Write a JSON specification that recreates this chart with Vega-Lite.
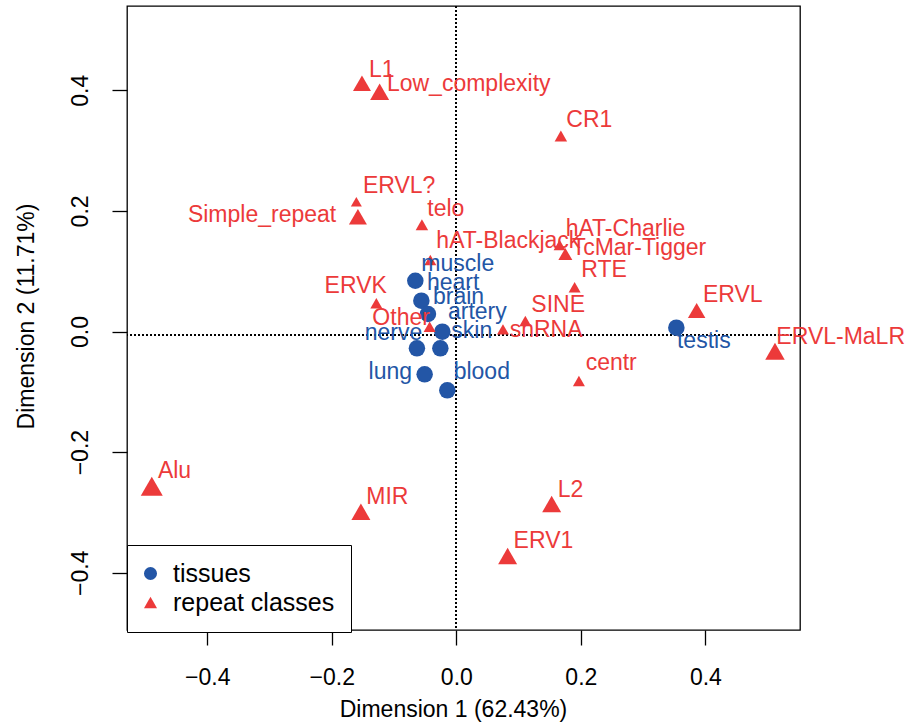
{
  "$schema": "https://vega.github.io/schema/vega-lite/v6.json",
  "width": 673,
  "height": 624,
  "autosize": {"type": "none"},
  "padding": {"left": 127, "top": 6, "right": 106, "bottom": 95},
  "background": "white",
  "config": {
    "view": {"stroke": "black", "strokeWidth": 1.3},
    "font": "Liberation Sans",
    "axis": {
      "domain": false,
      "grid": false,
      "tickColor": "black",
      "tickWidth": 1.3,
      "tickSize": 15,
      "labelColor": "black",
      "labelFont": "Liberation Sans",
      "labelFontSize": 23,
      "titleFont": "Liberation Sans",
      "titleFontSize": 23,
      "titleFontWeight": "normal",
      "titleColor": "black"
    },
    "legend": {
      "labelFont": "Liberation Sans",
      "labelFontSize": 25,
      "labelColor": "black",
      "labelLimit": 400
    }
  },
  "datasets": {
    "coords": [
      {"name": "muscle", "type": "tissues", "x": -0.0659, "y": 0.0842, "lx": -0.0562, "ly": 0.1008, "weight": 1.65},
      {"name": "heart", "type": "tissues", "x": -0.0562, "y": 0.0511, "lx": -0.0472, "ly": 0.0688, "weight": 1.65},
      {"name": "brain", "type": "tissues", "x": -0.0456, "y": 0.0290, "lx": -0.0376, "ly": 0.0456, "weight": 1.65},
      {"name": "artery", "type": "tissues", "x": -0.0225, "y": -0.0003, "lx": -0.0135, "ly": 0.0207, "weight": 1.65},
      {"name": "skin", "type": "tissues", "x": -0.0257, "y": -0.0279, "lx": -0.0080, "ly": -0.0113, "weight": 1.65},
      {"name": "nerve", "type": "tissues", "x": -0.0633, "y": -0.0279, "lx": -0.1473, "ly": -0.0141, "weight": 1.65},
      {"name": "lung", "type": "tissues", "x": -0.0509, "y": -0.0710, "lx": -0.1409, "ly": -0.0793, "weight": 1.65},
      {"name": "blood", "type": "tissues", "x": -0.0145, "y": -0.0975, "lx": -0.0043, "ly": -0.0793, "weight": 1.65},
      {"name": "testis", "type": "tissues", "x": 0.3534, "y": 0.0063, "lx": 0.3544, "ly": -0.0279, "weight": 1.65},
      {"name": "L1", "type": "repeat classes", "x": -0.1516, "y": 0.4116, "lx": -0.1404, "ly": 0.4226, "weight": 1.8},
      {"name": "Low_complexity", "type": "repeat classes", "x": -0.1232, "y": 0.3977, "lx": -0.1115, "ly": 0.3993, "weight": 1.9},
      {"name": "CR1", "type": "repeat classes", "x": 0.1679, "y": 0.3242, "lx": 0.1767, "ly": 0.3396, "weight": 1.25},
      {"name": "ERVL?", "type": "repeat classes", "x": -0.1606, "y": 0.2153, "lx": -0.1500, "ly": 0.2302, "weight": 1.1},
      {"name": "Simple_repeat", "type": "repeat classes", "x": -0.1581, "y": 0.1904, "lx": -0.4312, "ly": 0.1821, "weight": 1.8},
      {"name": "telo", "type": "repeat classes", "x": -0.0553, "y": 0.1771, "lx": -0.0466, "ly": 0.1915, "weight": 1.25},
      {"name": "hAT-Blackjack", "type": "repeat classes", "x": -0.0418, "y": 0.1186, "lx": -0.0321, "ly": 0.1380, "weight": 1.2},
      {"name": "hAT-Charlie", "type": "repeat classes", "x": 0.1659, "y": 0.1434, "lx": 0.1756, "ly": 0.1584, "weight": 1.2},
      {"name": "TcMar-Tigger", "type": "repeat classes", "x": 0.1751, "y": 0.1285, "lx": 0.1852, "ly": 0.1269, "weight": 1.4},
      {"name": "RTE", "type": "repeat classes", "x": 0.1900, "y": 0.0733, "lx": 0.2008, "ly": 0.0899, "weight": 1.2},
      {"name": "ERVL", "type": "repeat classes", "x": 0.3860, "y": 0.0348, "lx": 0.3961, "ly": 0.0494, "weight": 1.75},
      {"name": "ERVL-MaLR", "type": "repeat classes", "x": 0.5118, "y": -0.0328, "lx": 0.5140, "ly": -0.0212, "weight": 1.95},
      {"name": "ERVK", "type": "repeat classes", "x": -0.1285, "y": 0.0468, "lx": -0.2116, "ly": 0.0633, "weight": 1.2},
      {"name": "Other", "type": "repeat classes", "x": -0.0429, "y": 0.0080, "lx": -0.1349, "ly": 0.0108, "weight": 1.2},
      {"name": "SINE", "type": "repeat classes", "x": 0.1108, "y": 0.0174, "lx": 0.1205, "ly": 0.0328, "weight": 1.2},
      {"name": "snRNA", "type": "repeat classes", "x": 0.0749, "y": 0.0036, "lx": 0.0856, "ly": -0.0086, "weight": 1.2},
      {"name": "centr", "type": "repeat classes", "x": 0.1969, "y": -0.0821, "lx": 0.2077, "ly": -0.0638, "weight": 1.2},
      {"name": "Alu", "type": "repeat classes", "x": -0.4892, "y": -0.2566, "lx": -0.4794, "ly": -0.2434, "weight": 2.2},
      {"name": "MIR", "type": "repeat classes", "x": -0.1533, "y": -0.2988, "lx": -0.1446, "ly": -0.2861, "weight": 1.9},
      {"name": "L2", "type": "repeat classes", "x": 0.1531, "y": -0.2861, "lx": 0.1627, "ly": -0.2745, "weight": 1.9},
      {"name": "ERV1", "type": "repeat classes", "x": 0.0824, "y": -0.3723, "lx": 0.0920, "ly": -0.3595, "weight": 1.9}
    ]
  },
  "data": {"name": "coords"},
  "layer": [
    {
      "mark": {"type": "rule", "color": "black", "strokeWidth": 1.3, "strokeDash": [1.5, 2.5]},
      "encoding": {
        "x": {"datum": 0, "type": "quantitative", "scale": {"domain": [-0.529, 0.552], "nice": false, "zero": false}}
      }
    },
    {
      "mark": {"type": "rule", "color": "black", "strokeWidth": 1.3, "strokeDash": [1.5, 2.5]},
      "encoding": {
        "y": {"datum": -0.0058, "type": "quantitative", "scale": {"domain": [-0.495, 0.5398], "nice": false, "zero": false}}
      }
    },
    {
      "mark": {"type": "point", "filled": true, "opacity": 1, "strokeWidth": 0},
      "encoding": {
        "x": {
          "field": "x", "type": "quantitative",
          "scale": {"domain": [-0.529, 0.552], "nice": false, "zero": false},
          "axis": {
            "title": "Dimension 1 (62.43%)",
            "values": [-0.4, -0.2, 0, 0.2, 0.4],
            "format": ".1f",
            "labelBaseline": "alphabetic",
            "labelPadding": 39.5,
            "titleBaseline": "alphabetic",
            "titleX": 326,
            "titleY": 86.7,
            "titleAlign": "center"
          }
        },
        "y": {
          "field": "y", "type": "quantitative",
          "scale": {"domain": [-0.495, 0.5398], "nice": false, "zero": false},
          "axis": {
            "title": "Dimension 2 (11.71%)",
            "values": [-0.4, -0.2, 0, 0.2, 0.4],
            "format": ".1f",
            "labelAngle": -90,
            "labelAlign": "center",
            "labelBaseline": "alphabetic",
            "labelPadding": 25,
            "titleAngle": -90,
            "titleAlign": "center",
            "titleBaseline": "alphabetic",
            "titleX": -93.7,
            "titleY": 310
          }
        },
        "shape": {
          "field": "type", "type": "nominal",
          "scale": {"domain": ["tissues", "repeat classes"], "range": ["circle", "triangle-up"]},
          "legend": {
            "title": null,
            "orient": "none",
            "legendX": 0,
            "legendY": 539,
            "padding": 16,
            "rowPadding": 3,
            "symbolSize": 170,
            "symbolStrokeWidth": 0,
            "symbolOffset": -5,
            "labelOffset": 10,
            "labelLimit": 400,
            "strokeColor": "black",
            "fillColor": "white",
            "cornerRadius": 0
          }
        },
        "color": {
          "field": "type", "type": "nominal",
          "scale": {"domain": ["tissues", "repeat classes"], "range": ["#2356A6", "#EC3A3A"]},
          "legend": {
            "title": null,
            "orient": "none",
            "legendX": 0,
            "legendY": 539,
            "padding": 16,
            "rowPadding": 3,
            "symbolSize": 170,
            "symbolStrokeWidth": 0,
            "symbolOffset": -5,
            "labelOffset": 10,
            "labelLimit": 400,
            "strokeColor": "black",
            "fillColor": "white",
            "cornerRadius": 0
          }
        },
        "size": {
          "field": "weight", "type": "quantitative",
          "scale": {"type": "pow", "exponent": 2, "domain": [0, 2], "range": [0, 400]},
          "legend": null
        }
      }
    },
    {
      "transform": [{"filter": "datum.type === 'tissues'"}],
      "mark": {"type": "text", "align": "left", "baseline": "alphabetic", "font": "Liberation Sans", "fontSize": 23, "color": "#2356A6"},
      "encoding": {
        "x": {"field": "lx", "type": "quantitative", "scale": {"domain": [-0.529, 0.552], "nice": false, "zero": false}},
        "y": {"field": "ly", "type": "quantitative", "scale": {"domain": [-0.495, 0.5398], "nice": false, "zero": false}},
        "text": {"field": "name"}
      }
    },
    {
      "transform": [{"filter": "datum.type === 'repeat classes'"}],
      "mark": {"type": "text", "align": "left", "baseline": "alphabetic", "font": "Liberation Sans", "fontSize": 23, "color": "#EC3A3A"},
      "encoding": {
        "x": {"field": "lx", "type": "quantitative", "scale": {"domain": [-0.529, 0.552], "nice": false, "zero": false}},
        "y": {"field": "ly", "type": "quantitative", "scale": {"domain": [-0.495, 0.5398], "nice": false, "zero": false}},
        "text": {"field": "name"}
      }
    }
  ]
}
